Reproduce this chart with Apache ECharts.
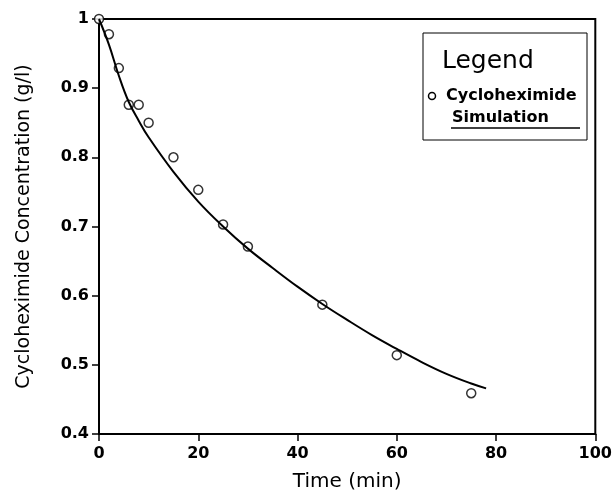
<!DOCTYPE html>
<html>
<head>
<meta charset="utf-8">
<script src="https://cdn.jsdelivr.net/npm/echarts@6/dist/echarts.min.js"></script>
<style>
  html, body { margin: 0; padding: 0; background: #fff; }
  #chart { width: 615px; height: 497px; }
</style>
</head>
<body>
<div id="chart"></div>
<script>
  // measured points (min, g/l)
  const obsTime = [0, 2, 4, 6, 8, 10, 15, 20, 25, 30, 45, 60, 75];
  const obsConc = [1.0, 0.978, 0.929, 0.876, 0.876, 0.85, 0.80, 0.753, 0.703, 0.671, 0.587, 0.514, 0.459];

  // simulation curve
  const simTime = [0, 2, 4, 6, 8, 10, 15, 20, 25, 30, 35, 40, 45, 50, 55, 60, 65, 70, 75, 78];
  const simConc = [1.0, 0.963, 0.918, 0.880, 0.853, 0.829, 0.779, 0.736, 0.700, 0.668, 0.640, 0.613, 0.588, 0.565, 0.543, 0.523, 0.504, 0.487, 0.473, 0.466];

  const font = '"DejaVu Sans", sans-serif';

  const chart = echarts.init(document.getElementById('chart'));
  chart.setOption({
    animation: false,
    grid: { left: 99, right: 15, top: 19, bottom: 62, show: true, borderColor: '#000', borderWidth: 2 },
    xAxis: {
      type: 'value', min: 0, max: 100, interval: 20,
      name: 'Time (min)', nameLocation: 'middle', nameGap: 38,
      nameTextStyle: { color: '#000', fontSize: 20, fontFamily: font },
      axisLine: { lineStyle: { color: '#000', width: 2 } },
      axisTick: { inside: false, length: 7, lineStyle: { color: '#000', width: 1.5 } },
      axisLabel: { color: '#000', fontSize: 16, fontWeight: 'bold', fontFamily: font, margin: 12 },
      splitLine: { show: false }
    },
    yAxis: {
      type: 'value', min: 0.4, max: 1, interval: 0.1,
      name: 'Cycloheximide Concentration (g/l)', nameLocation: 'middle', nameGap: 65,
      nameTextStyle: { color: '#000', fontSize: 19, fontFamily: font },
      axisLine: { lineStyle: { color: '#000', width: 2 } },
      axisTick: { inside: false, length: 7, lineStyle: { color: '#000', width: 1.5 } },
      axisLabel: { color: '#000', fontSize: 16, fontWeight: 'bold', fontFamily: font, margin: 10 },
      splitLine: { show: false }
    },
    series: [
      {
        name: 'Simulation', type: 'line', smooth: 0.4, symbol: 'none',
        lineStyle: { color: '#000', width: 2 },
        data: simTime.map((t, i) => [t, simConc[i]])
      },
      {
        name: 'Cycloheximide', type: 'scatter', symbol: 'circle', symbolSize: 9,
        itemStyle: { color: '#fff', borderColor: '#000', borderWidth: 1.5 },
        data: obsTime.map((t, i) => [t, obsConc[i]])
      }
    ],
    graphic: [
      { type: 'rect', shape: { x: 423, y: 33, width: 164, height: 107 }, style: { fill: '#fff', stroke: '#000', lineWidth: 1 } },
      { type: 'text', x: 442, y: 49, style: { text: 'Legend', fontSize: 25, fontFamily: font, fill: '#000' } },
      { type: 'circle', shape: { cx: 432, cy: 96, r: 3.5 }, style: { fill: '#fff', stroke: '#000', lineWidth: 1.5 } },
      { type: 'text', x: 446, y: 88, style: { text: 'Cycloheximide', fontSize: 16, fontWeight: 'bold', fontFamily: font, fill: '#000' } },
      { type: 'text', x: 452, y: 110, style: { text: 'Simulation', fontSize: 16, fontWeight: 'bold', fontFamily: font, fill: '#000' } },
      { type: 'line', shape: { x1: 451, y1: 128, x2: 580, y2: 128 }, style: { stroke: '#000', lineWidth: 1.5 } }
    ]
  });
</script>
</body>
</html>
